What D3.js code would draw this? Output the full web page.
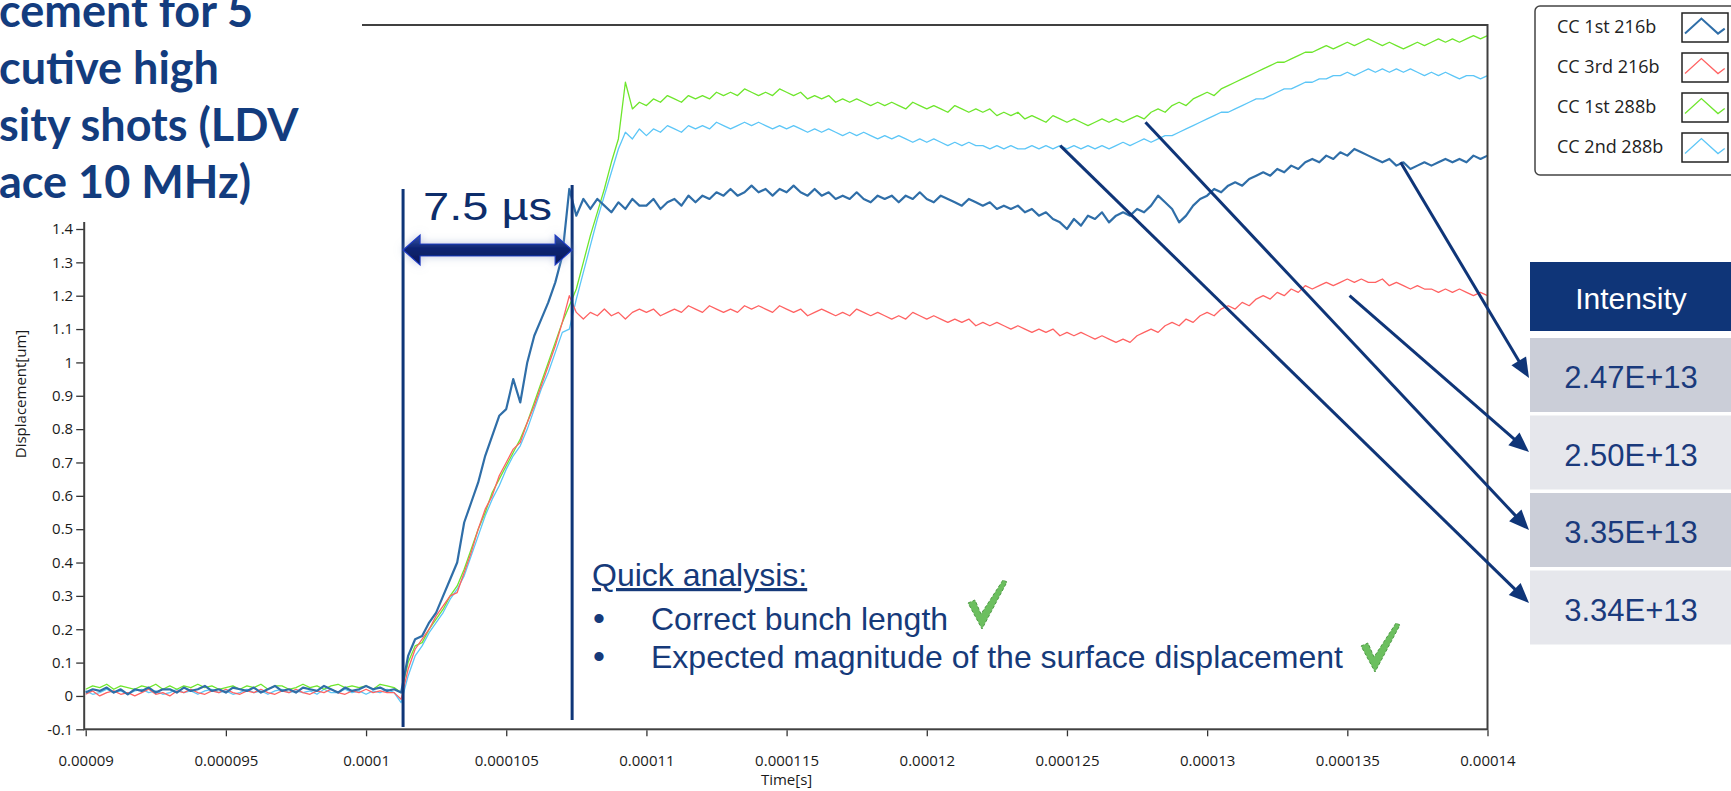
<!DOCTYPE html>
<html>
<head>
<meta charset="utf-8">
<script src="https://cdn.jsdelivr.net/npm/d3@7"></script>
<style>
  html, body { margin: 0; padding: 0; background: #fff; overflow: hidden; }
  svg { display: block; }
</style>
</head>
<body>
<svg id="chart" width="1731" height="791"></svg>
<script>
// ---- data -------------------------------------------------------------
const seriesNames  = ["CC 1st 216b", "CC 3rd 216b", "CC 1st 288b", "CC 2nd 288b"];
const seriesColors = ["#2f6ea8", "#ff6262", "#6ee62c", "#5cc6f7"];

// sample grid in microseconds (0.25 µs spacing, 90 µs .. 140 µs)
const timeUs = d3.range(90, 140.0001, 0.25);

// displacement [µm], one value per sample
const cc1st216b = [
  0.01,0.02,0.015,0.025, 0.01,0.02,0.005,0.02, 0.015,0.025,0.01,0.02, 0.02,0.01,0.025,0.015,
  0.02,0.03,0.015,0.02, 0.01,0.025,0.02,0.015, 0.025,0.01,0.02,0.03, 0.015,0.02,0.01,0.025,
  0.02,0.015,0.03,0.02, 0.01,0.025,0.015,0.02, 0.03,0.02,0.025,0.015, 0.02,0.01,0.12,0.17,
  0.18,0.22,0.25,0.30, 0.35,0.40,0.52,0.58, 0.64,0.72,0.78,0.84, 0.86,0.95,0.88,1.00,
  1.08,1.13,1.18,1.24, 1.32,1.52,1.44,1.49, 1.46,1.49,1.47,1.45, 1.48,1.46,1.49,1.47,
  1.47,1.49,1.46,1.48, 1.49,1.47,1.50,1.48, 1.50,1.49,1.51,1.50, 1.52,1.50,1.51,1.53,
  1.51,1.52,1.50,1.52, 1.51,1.53,1.51,1.50, 1.52,1.50,1.51,1.49, 1.50,1.49,1.51,1.49,
  1.48,1.50,1.49,1.50, 1.48,1.50,1.49,1.51, 1.49,1.48,1.50,1.49, 1.48,1.47,1.49,1.48,
  1.47,1.48,1.46,1.47, 1.46,1.47,1.45,1.46, 1.44,1.45,1.43,1.42, 1.40,1.43,1.41,1.44,
  1.43,1.45,1.42,1.44, 1.45,1.44,1.46,1.45, 1.47,1.50,1.48,1.46, 1.42,1.44,1.47,1.49,
  1.50,1.52,1.51,1.53, 1.54,1.53,1.55,1.56, 1.57,1.56,1.58,1.57, 1.59,1.58,1.60,1.61,
  1.60,1.62,1.61,1.63, 1.62,1.64,1.63,1.62, 1.61,1.60,1.61,1.59, 1.60,1.58,1.59,1.60,
  1.59,1.60,1.61,1.60, 1.61,1.60,1.62,1.61, 1.62
];
const cc3rd216b = [
  0.005,0.015,0.0,0.01, 0.015,0.005,0.01,0.0, 0.01,0.02,0.005,0.01, 0.0,0.015,0.01,0.02,
  0.01,0.005,0.015,0.01, 0.02,0.01,0.005,0.015, 0.01,0.02,0.01,0.005, 0.015,0.01,0.02,0.01,
  0.005,0.015,0.01,0.02, 0.01,0.005,0.015,0.01, 0.02,0.01,0.015,0.01, 0.01,-0.01,0.08,0.14,
  0.17,0.20,0.24,0.27, 0.30,0.31,0.37,0.43, 0.50,0.56,0.60,0.66, 0.70,0.74,0.76,0.82,
  0.87,0.93,0.99,1.05, 1.12,1.20,1.15,1.13, 1.15,1.14,1.16,1.14, 1.15,1.13,1.15,1.16,
  1.15,1.16,1.14,1.15, 1.16,1.15,1.17,1.16, 1.15,1.17,1.16,1.15, 1.16,1.15,1.17,1.16,
  1.17,1.16,1.15,1.17, 1.16,1.15,1.16,1.14, 1.15,1.16,1.15,1.14, 1.15,1.14,1.16,1.15,
  1.14,1.15,1.14,1.13, 1.14,1.13,1.15,1.14, 1.13,1.14,1.13,1.12, 1.13,1.12,1.13,1.11,
  1.12,1.11,1.12,1.11, 1.10,1.11,1.10,1.09, 1.10,1.09,1.10,1.08, 1.09,1.08,1.09,1.08,
  1.07,1.08,1.07,1.06, 1.07,1.06,1.08,1.09, 1.10,1.09,1.11,1.12, 1.11,1.13,1.12,1.14,
  1.15,1.14,1.16,1.17, 1.16,1.18,1.17,1.19, 1.20,1.19,1.21,1.20, 1.22,1.21,1.23,1.22,
  1.23,1.24,1.23,1.24, 1.25,1.24,1.25,1.24, 1.24,1.25,1.23,1.24, 1.23,1.22,1.23,1.22,
  1.22,1.21,1.22,1.21, 1.22,1.21,1.20,1.21, 1.20
];
const cc1st288b = [
  0.02,0.03,0.025,0.035, 0.02,0.03,0.025,0.02, 0.03,0.025,0.035,0.02, 0.03,0.02,0.03,0.025,
  0.035,0.025,0.03,0.02, 0.025,0.03,0.02,0.03, 0.025,0.035,0.02,0.03, 0.03,0.02,0.025,0.035,
  0.025,0.03,0.02,0.03, 0.035,0.025,0.03,0.025, 0.03,0.02,0.035,0.03, 0.025,0.01,0.10,0.15,
  0.16,0.20,0.23,0.26, 0.30,0.33,0.38,0.44, 0.50,0.55,0.61,0.65, 0.69,0.73,0.77,0.82,
  0.88,0.94,1.00,1.06, 1.12,1.17,1.22,1.30, 1.38,1.45,1.52,1.60, 1.67,1.84,1.76,1.78,
  1.77,1.79,1.78,1.80, 1.79,1.78,1.80,1.79, 1.80,1.79,1.81,1.80, 1.81,1.80,1.82,1.81,
  1.80,1.81,1.80,1.82, 1.81,1.80,1.81,1.79, 1.80,1.79,1.80,1.78, 1.79,1.78,1.79,1.78,
  1.77,1.78,1.77,1.78, 1.77,1.76,1.78,1.77, 1.76,1.77,1.76,1.75, 1.77,1.76,1.75,1.76,
  1.75,1.76,1.74,1.75, 1.74,1.75,1.73,1.74, 1.73,1.72,1.74,1.73, 1.72,1.73,1.72,1.71,
  1.72,1.73,1.72,1.73, 1.72,1.73,1.74,1.73, 1.75,1.76,1.75,1.77, 1.78,1.77,1.79,1.80,
  1.81,1.80,1.82,1.83, 1.84,1.85,1.86,1.87, 1.88,1.89,1.90,1.90, 1.91,1.92,1.93,1.93,
  1.94,1.95,1.94,1.95, 1.96,1.95,1.96,1.97, 1.96,1.95,1.96,1.95, 1.94,1.95,1.96,1.95,
  1.96,1.97,1.96,1.97, 1.96,1.97,1.98,1.97, 1.98
];
const cc2nd288b = [
  0.015,0.005,0.01,0.02, 0.01,0.015,0.005,0.015, 0.02,0.01,0.015,0.005, 0.01,0.02,0.01,0.015,
  0.005,0.015,0.02,0.01, 0.015,0.005,0.01,0.02, 0.01,0.015,0.005,0.015, 0.02,0.01,0.015,0.01,
  0.015,0.005,0.02,0.01, 0.01,0.02,0.01,0.015, 0.005,0.015,0.01,0.02, 0.01,-0.02,0.06,0.12,
  0.15,0.19,0.22,0.25, 0.29,0.32,0.36,0.42, 0.48,0.54,0.59,0.63, 0.68,0.72,0.75,0.80,
  0.86,0.92,0.97,1.03, 1.09,1.10,1.19,1.27, 1.35,1.43,1.50,1.57, 1.64,1.69,1.67,1.70,
  1.68,1.70,1.69,1.71, 1.70,1.69,1.71,1.70, 1.71,1.70,1.72,1.71, 1.70,1.71,1.72,1.71,
  1.72,1.71,1.70,1.71, 1.70,1.71,1.70,1.69, 1.70,1.69,1.70,1.69, 1.68,1.69,1.68,1.69,
  1.68,1.67,1.68,1.67, 1.68,1.67,1.66,1.67, 1.66,1.67,1.66,1.65, 1.66,1.65,1.66,1.65,
  1.65,1.64,1.65,1.64, 1.65,1.64,1.64,1.65, 1.64,1.65,1.64,1.65, 1.64,1.65,1.64,1.65,
  1.64,1.65,1.64,1.65, 1.66,1.65,1.66,1.67, 1.66,1.67,1.68,1.68, 1.69,1.70,1.71,1.72,
  1.73,1.74,1.75,1.75, 1.76,1.77,1.78,1.79, 1.79,1.80,1.81,1.82, 1.82,1.83,1.84,1.84,
  1.85,1.85,1.86,1.86, 1.87,1.86,1.87,1.88, 1.87,1.88,1.87,1.88, 1.87,1.88,1.87,1.86,
  1.87,1.86,1.87,1.86, 1.85,1.86,1.86,1.85, 1.86
];
const seriesValues = [cc1st216b, cc3rd216b, cc1st288b, cc2nd288b];

const xTicks      = [90, 95, 100, 105, 110, 115, 120, 125, 130, 135, 140];
const xTickLabels = ["0.00009", "0.000095", "0.0001", "0.000105", "0.00011", "0.000115",
                     "0.00012", "0.000125", "0.00013", "0.000135", "0.00014"];
const yTicks      = [-0.1, 0, 0.1, 0.2, 0.3, 0.4, 0.5, 0.6, 0.7, 0.8, 0.9, 1, 1.1, 1.2, 1.3, 1.4];
const yTickLabels = ["-0.1", "0", "0.1", "0.2", "0.3", "0.4", "0.5", "0.6", "0.7", "0.8",
                     "0.9", "1", "1.1", "1.2", "1.3", "1.4"];

const titleLines = ["cement for 5", "cutive high", "sity shots (LDV", "ace 10 MHz)"];
const intensityHeader = "Intensity";
const intensityLabels = ["2.47E+13", "2.50E+13", "3.35E+13", "3.34E+13"];
// where each pointer leaves its trace: [time µs, displacement µm]
const pointerAnchors = [[136.9, 1.60], [135.08, 1.20], [127.8, 1.72], [124.76, 1.65]];
// bunch passage window markers: [time µs, top µm, bottom µm]
const bunchMarkers = [[101.32, 1.52, -0.093], [107.35, 1.532, -0.072]];
const bunchLabel = "7.5 µs";
const analysisTitle = "Quick analysis:";
const analysisItems = ["Correct bunch length", "Expected magnitude of the surface displacement"];

// ---- layout -----------------------------------------------------------
const W = 1731, H = 791;
const plot = { left: 85.7, right: 1487.5, top: 25, bottom: 729.3 };
const navy = "#0f3578";
const svg = d3.select("#chart");

const x = d3.scaleLinear().domain([90, 140]).range([plot.left, plot.right]);
const y = d3.scaleLinear().domain([-0.1, 1.4]).range([plot.bottom, 229]);

const defs = svg.append("defs");
const glow = defs.append("filter").attr("id", "glow")
  .attr("x", "-20%").attr("y", "-60%").attr("width", "140%").attr("height", "220%");
glow.append("feGaussianBlur").attr("in", "SourceAlpha").attr("stdDeviation", 4).attr("result", "b");
glow.append("feFlood").attr("flood-color", "#8c9bc4").attr("flood-opacity", 0.55).attr("result", "c");
glow.append("feComposite").attr("in", "c").attr("in2", "b").attr("operator", "in").attr("result", "s");
const gm = glow.append("feMerge");
gm.append("feMergeNode").attr("in", "s");
gm.append("feMergeNode").attr("in", "SourceGraphic");

const grad = defs.append("linearGradient").attr("id", "arrowFill")
  .attr("x1", 0).attr("y1", 0).attr("x2", 0).attr("y2", 1);
grad.append("stop").attr("offset", "0%").attr("stop-color", "#3a55a8");
grad.append("stop").attr("offset", "45%").attr("stop-color", "#0b2472");
grad.append("stop").attr("offset", "100%").attr("stop-color", "#061a58");

// ---- traces -----------------------------------------------------------
const line = d3.line().x((d, i) => x(timeUs[i])).y(d => y(d));
const drawOrder = [3, 2, 1, 0];
const widths = [2.2, 1.3, 1.3, 1.3];
svg.append("g").selectAll("path")
  .data(drawOrder)
  .join("path")
  .attr("d", k => line(seriesValues[k]))
  .attr("fill", "none")
  .attr("stroke", k => seriesColors[k])
  .attr("stroke-width", k => widths[k])
  .attr("stroke-linejoin", "round");

// ---- axes and frame ---------------------------------------------------
const axisFont = "'Open Sans', 'Noto Sans', sans-serif";
const gy = svg.append("g").attr("transform", `translate(${plot.left - 1.5},0)`)
  .call(d3.axisLeft(y).tickValues(yTicks).tickFormat((d, i) => yTickLabels[i]).tickSize(8).tickPadding(3));
gy.select(".domain").remove();
gy.selectAll("line").attr("stroke", "#333").attr("stroke-width", 1.3);
gy.selectAll("text").attr("font-family", axisFont).attr("font-size", 15).attr("fill", "#1a1a1a");

const gx = svg.append("g").attr("transform", `translate(0,${plot.bottom + 1})`)
  .call(d3.axisBottom(x).tickValues(xTicks).tickFormat((d, i) => xTickLabels[i]).tickSize(6));
gx.select(".domain").remove();
gx.selectAll("line").attr("stroke", "#333").attr("stroke-width", 1.3);
gx.selectAll("text").attr("font-family", axisFont).attr("font-size", 15).attr("fill", "#1a1a1a")
  .attr("y", 36).attr("dy", 0);

svg.append("rect")
  .attr("x", plot.left - 1.5).attr("y", plot.top)
  .attr("width", plot.right - plot.left + 1.5).attr("height", plot.bottom - plot.top)
  .attr("fill", "none").attr("stroke", "#404040").attr("stroke-width", 2);

svg.append("text")
  .attr("transform", `translate(26,394) rotate(-90)`)
  .attr("text-anchor", "middle")
  .attr("font-family", axisFont).attr("font-size", 15).attr("fill", "#1a1a1a")
  .text("Displacement[um]");
svg.append("text")
  .attr("x", x(115)).attr("y", 785).attr("text-anchor", "middle")
  .attr("font-family", axisFont).attr("font-size", 15).attr("fill", "#1a1a1a")
  .text("Time[s]");

// ---- title block ------------------------------------------------------
svg.append("rect").attr("x", 0).attr("y", 0).attr("width", 362).attr("height", 222).attr("fill", "#fff");
svg.append("g").selectAll("text")
  .data(titleLines)
  .join("text")
  .attr("x", -1)
  .attr("y", (d, i) => 27 + i * 57)
  .attr("font-family", "Lato, 'Open Sans', sans-serif")
  .attr("font-weight", 700)
  .attr("font-size", 45)
  .attr("fill", "#133c7e")
  .text(d => d);

// ---- bunch window markers --------------------------------------------
svg.append("g").selectAll("line")
  .data(bunchMarkers)
  .join("line")
  .attr("x1", d => x(d[0])).attr("x2", d => x(d[0]))
  .attr("y1", d => y(d[1])).attr("y2", d => y(d[2]))
  .attr("stroke", navy).attr("stroke-width", 3);

{
  const x1 = x(bunchMarkers[0][0]), x2 = x(bunchMarkers[1][0]), cy = 250;
  const hl = 17, hh = 15, st = 6;
  const p = d3.path();
  p.moveTo(x1, cy); p.lineTo(x1 + hl, cy - hh); p.lineTo(x1 + hl, cy - st);
  p.lineTo(x2 - hl, cy - st); p.lineTo(x2 - hl, cy - hh); p.lineTo(x2, cy);
  p.lineTo(x2 - hl, cy + hh); p.lineTo(x2 - hl, cy + st); p.lineTo(x1 + hl, cy + st);
  p.lineTo(x1 + hl, cy + hh); p.closePath();
  svg.append("path").attr("d", p.toString())
    .attr("fill", "url(#arrowFill)").attr("stroke", "#1a3ac4").attr("stroke-width", 1.2)
    .attr("filter", "url(#glow)");
}
svg.append("text")
  .attr("x", 423).attr("y", 220)
  .attr("font-family", "'Liberation Sans', Arial, sans-serif")
  .attr("font-size", 38).attr("fill", "#0d2d6b")
  .attr("textLength", 129).attr("lengthAdjust", "spacingAndGlyphs")
  .text(bunchLabel);

// ---- quick analysis notes ---------------------------------------------
const noteFont = "'Liberation Sans', Arial, sans-serif";
svg.append("text")
  .attr("x", 592).attr("y", 586)
  .attr("font-family", noteFont).attr("font-size", 32).attr("fill", "#163a7a")
  .attr("text-decoration", "underline")
  .text(analysisTitle);
const items = svg.append("g").selectAll("g").data(analysisItems).join("g");
items.append("text")
  .attr("x", 593).attr("y", (d, i) => 630 + i * 38)
  .attr("font-family", noteFont).attr("font-size", 34).attr("fill", "#163a7a")
  .text("•");
items.append("text")
  .attr("x", 651).attr("y", (d, i) => 630 + i * 38)
  .attr("font-family", noteFont).attr("font-size", 32).attr("fill", "#163a7a")
  .text(d => d);

function checkMark(cx, cy) {
  const p = d3.path();
  p.moveTo(cx, cy + 23); p.lineTo(cx + 7, cy + 20); p.lineTo(cx + 13, cy + 34);
  p.lineTo(cx + 35, cy); p.lineTo(cx + 39, cy + 2); p.lineTo(cx + 14, cy + 49);
  p.closePath();
  svg.append("path").attr("d", p.toString())
    .attr("fill", "#6cbf5f").attr("stroke", "#4f9a46").attr("stroke-width", 1)
    .attr("stroke-dasharray", "3 2");
}
checkMark(968, 580);
checkMark(1361, 623);

// ---- legend -----------------------------------------------------------
const legend = svg.append("g");
legend.append("rect")
  .attr("x", 1535).attr("y", 6).attr("width", 220).attr("height", 169).attr("rx", 5)
  .attr("fill", "#fff").attr("stroke", "#444").attr("stroke-width", 1.5);
const li = legend.selectAll("g.item").data(seriesNames).join("g")
  .attr("class", "item")
  .attr("transform", (d, i) => `translate(0,${13 + i * 40})`);
li.append("text")
  .attr("x", 1557).attr("y", 20)
  .attr("font-family", axisFont).attr("font-size", 18).attr("fill", "#222")
  .text(d => d);
li.append("rect")
  .attr("x", 1682).attr("y", 0).attr("width", 46).attr("height", 29)
  .attr("fill", "#fff").attr("stroke", "#222").attr("stroke-width", 1.5);
li.append("polyline")
  .attr("points", "1685,20.6 1701.4,5.6 1718,20.6 1724.7,15.6")
  .attr("fill", "none")
  .attr("stroke", (d, i) => seriesColors[i])
  .attr("stroke-width", (d, i) => i === 0 ? 2 : 1.3);

// ---- intensity table --------------------------------------------------
const table = { left: 1530, right: 1731, headTop: 262, headH: 69, rowTop: 338, rowH: 74, rowStep: 77.5 };
const tableCx = 1631;
svg.append("rect")
  .attr("x", table.left).attr("y", table.headTop)
  .attr("width", table.right - table.left).attr("height", table.headH)
  .attr("fill", navy);
svg.append("text")
  .attr("x", tableCx).attr("y", 309).attr("text-anchor", "middle")
  .attr("font-family", noteFont).attr("font-size", 30).attr("fill", "#fff")
  .text(intensityHeader);
const rows = svg.append("g").selectAll("g").data(intensityLabels).join("g");
rows.append("rect")
  .attr("x", table.left).attr("y", (d, i) => table.rowTop + i * table.rowStep)
  .attr("width", table.right - table.left).attr("height", table.rowH)
  .attr("fill", (d, i) => i % 2 === 0 ? "#cbced8" : "#e6e7ec");
rows.append("text")
  .attr("x", tableCx).attr("y", (d, i) => table.rowTop + i * table.rowStep + 50)
  .attr("text-anchor", "middle")
  .attr("font-family", noteFont).attr("font-size", 31).attr("fill", "#1a3a7c")
  .text(d => d);

// ---- pointers from traces to table rows --------------------------------
const tipY = [378, 452, 530, 603];
pointerAnchors.forEach((a, i) => {
  const sx = x(a[0]), sy = y(a[1]);
  const tx = table.left - 1, ty = tipY[i];
  const dx = tx - sx, dy = ty - sy, len = Math.hypot(dx, dy);
  const ux = dx / len, uy = dy / len;
  const hl = 20, hw = 8.5;
  const bx = tx - ux * hl, by = ty - uy * hl;
  svg.append("line")
    .attr("x1", sx).attr("y1", sy).attr("x2", bx + ux * 2).attr("y2", by + uy * 2)
    .attr("stroke", navy).attr("stroke-width", 3);
  svg.append("path")
    .attr("d", `M${tx},${ty} L${bx - uy * hw},${by + ux * hw} L${bx + uy * hw},${by - ux * hw} Z`)
    .attr("fill", navy);
});
</script>
</body>
</html>
